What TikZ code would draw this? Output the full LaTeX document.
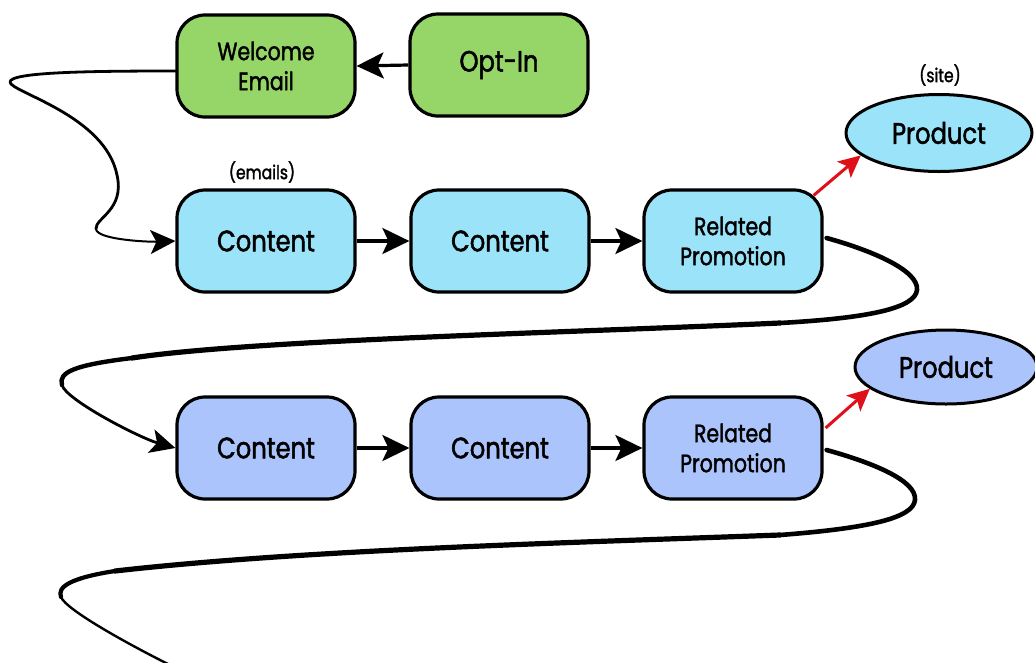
\documentclass[tikz,border=0pt]{standalone}
\usepackage{fontspec}
\setmainfont[FakeStretch=0.82,FakeBold=1.6]{Poppins}
\usetikzlibrary{arrows.meta,shapes.geometric}
\definecolor{stepgreen}{RGB}{150,214,104}
\definecolor{skyfill}{RGB}{155,227,249}
\definecolor{lilacfill}{RGB}{171,196,251}
\definecolor{promored}{RGB}{224,16,26}
\newcommand{\bigtxt}{\fontsize{29.5}{34}\selectfont}
\newcommand{\midtxt}{\fontsize{25}{30}\selectfont}
\newcommand{\smalltxt}{\fontsize{19}{22}\selectfont}
\begin{document}
\begin{tikzpicture}[x=1pt,y=-1pt,
  card/.style={draw=black, line width=3.2pt, rounded corners=28pt,
    minimum width=178pt, minimum height=102pt, align=center, inner sep=0pt},
  oval/.style={draw=black, ellipse, line width=3pt, inner sep=0pt},
  flow/.style={line width=3.2pt, -{Stealth[length=27pt,width=26pt,inset=6pt]}},
  link/.style={line width=3pt, promored, -{Stealth[length=22pt,width=21pt,inset=5pt]}},
  trail/.style={line cap=round, line join=round},
  note/.style={inner sep=0pt, font=\smalltxt}
]
\useasboundingbox (0,0) rectangle (1035,662);

% entry steps
\node[card, fill=stepgreen, font=\midtxt] (we) at (266,66) {Welcome\\Email};
\node[card, fill=stepgreen, font=\bigtxt] (opt) at (499,65) {Opt-In};

% first email series
\node[card, fill=skyfill, font=\bigtxt] (c1) at (266,241) {Content};
\node[card, fill=skyfill, font=\bigtxt] (c1b) at (500,241) {Content};
\node[card, fill=skyfill, font=\midtxt] (rp1) at (733,241) {Related\\Promotion};
\node[oval, fill=skyfill, font=\bigtxt, minimum width=186pt, minimum height=77pt] (prod1) at (939,133) {Product};
\node[note] (emails) at (262,172) {(emails)};
\node[note] (site) at (940,75) {(site)};

% second email series
\node[card, fill=lilacfill, font=\bigtxt] (c2) at (266,448) {Content};
\node[card, fill=lilacfill, font=\bigtxt] (c2b) at (500,448) {Content};
\node[card, fill=lilacfill, font=\midtxt] (rp2) at (733,448) {Related\\Promotion};
\node[oval, fill=lilacfill, font=\bigtxt, minimum width=182pt, minimum height=74pt] (prod2) at (946,367) {Product};

% straight steps
\draw[flow] (opt.west) -- (we.east);
\draw[flow] (c1.east) -- (c1b.west);
\draw[flow] (c1b.east) -- (rp1.west);
\draw[flow] (c2.east) -- (c2b.west);
\draw[flow] (c2b.east) -- (rp2.west);

% promotions lead to the product pages
\draw[link] ([shift={(-10,7)}]rp1.north east) -- (prod1.196);
\draw[link] ([shift={(2,-20)}]rp2.east) -- (prod2.196);

% welcome email into the first series
\draw[trail, line width=2.8pt] ([shift={(0,5)}]we.west) .. controls (90,71) and (10,72) .. (10,82)
  .. controls (10,92) and (105,115) .. (117,175)
  .. controls (125,210) and (95,218) .. (96,229);
\draw[trail, line width=2pt, -{Stealth[length=25pt,width=24pt,inset=6pt]}]
  (96,229) .. controls (97,240) and (150,242) .. (c1.west);

% first series into the second
\draw[trail, line width=4.6pt] ([shift={(3,-3)}]rp1.east) .. controls (870,250) and (919,270) .. (917,290)
  .. controls (915,308) and (870,318) .. (780,323);
\draw[trail, line width=5.2pt] (780,323) .. controls (560,333) and (250,340) .. (132,358);
\draw[trail, line width=4.4pt] (132,358) .. controls (75,365) and (58,372) .. (62,385);
\draw[trail, line width=2.8pt, -{Stealth[length=25pt,width=24pt,inset=6pt]}]
  (62,385) .. controls (66,400) and (140,438) .. (c2.west);

% second series continues on
\coordinate (tailend) at (168,664);
\draw[trail, line width=4.6pt] ([shift={(3,2)}]rp2.east) .. controls (870,462) and (917,480) .. (915,500)
  .. controls (913,518) and (870,528) .. (780,535);
\draw[trail, line width=5.2pt] (780,535) .. controls (560,543) and (300,550) .. (115,571);
\draw[trail, line width=4.2pt] (115,571) .. controls (70,578) and (57,587) .. (61,597);
\draw[trail, line width=2.4pt] (61,597) .. controls (66,610) and (130,645) .. (tailend);
\end{tikzpicture}
\end{document}
